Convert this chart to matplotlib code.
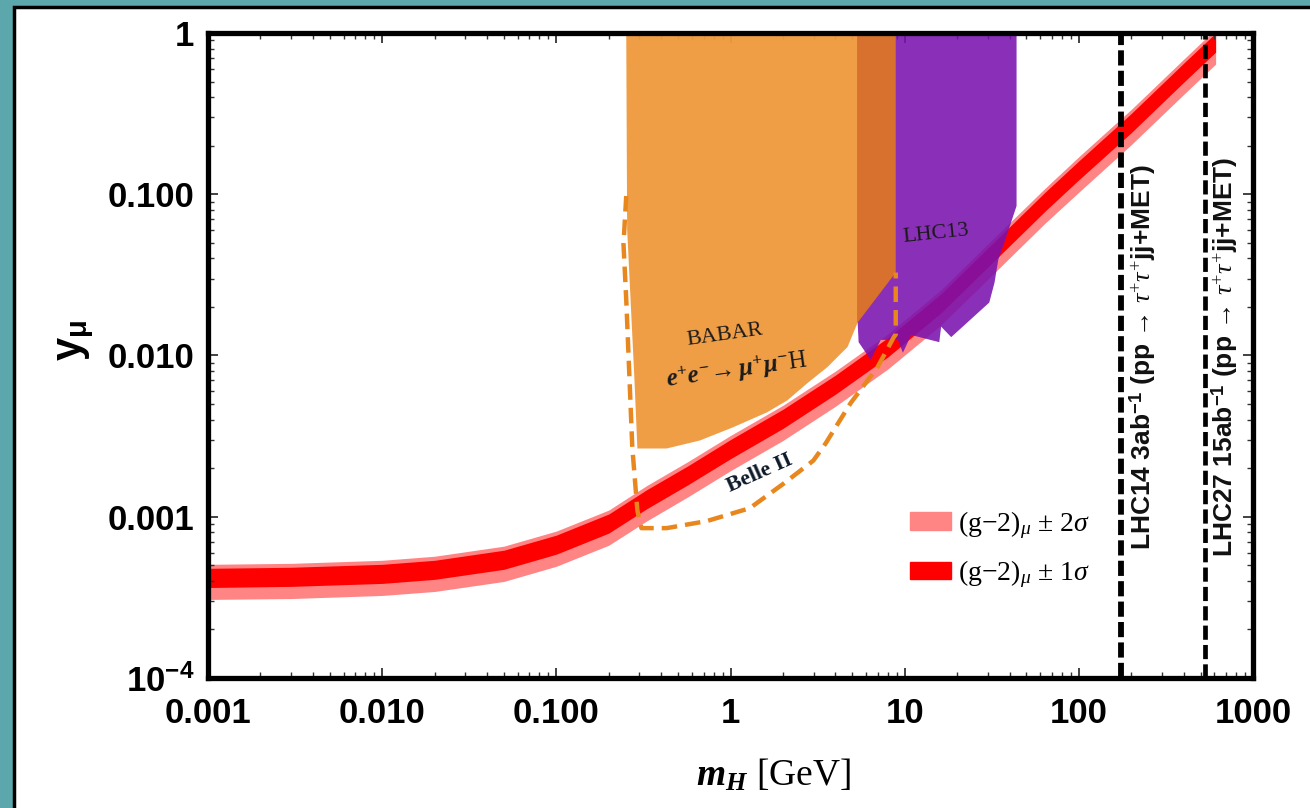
import matplotlib.pyplot as plt
from matplotlib.patches import Rectangle, Patch
from matplotlib.ticker import FixedLocator, LogLocator, NullFormatter

plt.rcParams['mathtext.fontset'] = 'custom'
plt.rcParams['mathtext.rm'] = 'Liberation Serif'
plt.rcParams['mathtext.it'] = 'Liberation Serif:italic'
plt.rcParams['mathtext.bf'] = 'Liberation Sans:bold'
plt.rcParams['mathtext.bfit'] = 'Liberation Serif:italic:bold'

# (g-2)_mu band
band_x = [0.001, 0.003, 0.01, 0.02, 0.05, 0.1, 0.2, 0.33, 0.57, 1, 2, 4, 8, 16, 32, 64, 100, 200, 400, 610]
pink_hi = [5.07e-4, 5.14e-4, 5.37e-4, 5.69e-4, 6.57e-4, 8.15e-4, 1.10e-3, 1.56e-3, 2.20e-3, 3.19e-3,
           4.91e-3, 8.00e-3, 0.0136, 0.0253, 0.0526, 0.109, 0.171, 0.336, 0.688, 1.06]
red_hi = [4.79e-4, 4.86e-4, 5.07e-4, 5.37e-4, 6.20e-4, 7.69e-4, 1.04e-3, 1.47e-3, 2.07e-3, 3.01e-3,
          4.64e-3, 7.55e-3, 0.0129, 0.0239, 0.0496, 0.103, 0.161, 0.317, 0.650, 1.0]
red_lo = [3.64e-4, 3.70e-4, 3.86e-4, 4.09e-4, 4.72e-4, 5.86e-4, 7.92e-4, 1.12e-3, 1.58e-3, 2.29e-3,
          3.53e-3, 5.75e-3, 9.79e-3, 0.0182, 0.0378, 0.0786, 0.123, 0.241, 0.495, 0.761]
pink_lo = [3.07e-4, 3.11e-4, 3.25e-4, 3.44e-4, 3.97e-4, 4.93e-4, 6.66e-4, 9.41e-4, 1.33e-3, 1.93e-3,
           2.97e-3, 4.84e-3, 8.24e-3, 0.0153, 0.0318, 0.0662, 0.103, 0.203, 0.416, 0.641]

# BABAR exclusion region
babar_x = [0.252, 0.255, 0.281, 0.292, 0.43, 0.666, 1.03, 1.62, 2.12, 2.76, 3.60, 4.70, 5.37, 8.89, 8.89]
babar_y = [1, 0.0607, 7.0e-3, 2.65e-3, 2.65e-3, 2.97e-3, 3.58e-3, 4.44e-3, 5.27e-3, 6.73e-3, 8.47e-3, 0.0113, 0.016, 0.0327, 1]

# part of BABAR drawn darker (overlap with LHC13)
overlap_x = [5.37, 5.37, 8.89, 8.89]
overlap_y = [1, 0.016, 0.0327, 1]

# LHC13 region
lhc13_x = [5.37, 43.9, 43.9, 37.4, 34.5, 32.8, 30.6, 18.5, 16.2, 15.8, 10.9, 9.77, 9.14, 7.29, 6.38, 5.44, 5.37]
lhc13_y = [1, 1, 0.0846, 0.0504, 0.0394, 0.0283, 0.0213, 0.0130, 0.0151, 0.0121, 0.0134, 0.0104, 0.0125, 0.0125, 9.4e-3, 0.0121, 0.016]

# Belle II projection (dashed)
belle_x = [0.252, 0.243, 0.252, 0.273, 0.292, 0.308, 0.43, 0.731, 1.29, 2.01, 2.99, 3.51, 4.89, 7.0, 8.66, 8.89, 8.89]
belle_y = [0.0975, 0.049, 0.0222, 2.7e-3, 1.09e-3, 8.5e-4, 8.5e-4, 9.4e-4, 1.13e-3, 1.60e-3, 2.23e-3, 2.84e-3, 5.06e-3, 8.5e-3, 0.013, 0.0135, 0.0327]

# future LHC reach (vertical lines)
lhc14_m = 175
lhc27_m = 530

xticks = [0.001, 0.01, 0.1, 1, 10, 100, 1000]
xlabels = ['0.001', '0.010', '0.100', '1', '10', '100', '1000']
yticks = [1e-4, 1e-3, 1e-2, 1e-1, 1]
ylabels = [r'$\mathbf{10^{-4}}$', '0.001', '0.010', '0.100', '1']

fig = plt.figure(figsize=(13.1, 8.08), dpi=100)
fig.patch.set_facecolor('#5ba7ab')
fig.patches.append(Rectangle((14 / 1310, -0.1), 1.2, 1.1 - 7 / 808, transform=fig.transFigure,
                             facecolor='white', edgecolor='black', lw=2.5, zorder=-5))

ax = fig.add_axes([208 / 1310, 130 / 808, 1045 / 1310, 645 / 808])
ax.set_zorder(2)
ax.set_facecolor('white')
ax.set_xscale('log')
ax.set_yscale('log')
ax.set_xlim(0.001, 1000)
ax.set_ylim(1e-4, 1)

ax.fill_between(band_x, pink_lo, pink_hi, color='#ff8585', lw=0, zorder=1)
ax.fill_between(band_x, red_lo, red_hi, color='#ff0000', lw=0, zorder=1.5)

ax.fill(babar_x, babar_y, color='#f09a3e', alpha=0.96, lw=0, zorder=2)
ax.fill(lhc13_x, lhc13_y, color='#7a12ae', alpha=0.88, lw=0, zorder=3)
ax.fill(overlap_x, overlap_y, color='#d9712e', lw=0, zorder=4)

ax.plot(belle_x, belle_y, color='#e8871e', lw=3.2, dashes=(3.5, 1.8), zorder=5)

ax.axvline(lhc14_m, color='black', lw=4.2, dashes=(2.6, 0.9), zorder=6)
ax.axvline(lhc27_m, color='black', lw=3.4, dashes=(3, 1.1), zorder=6)

txt_kw = dict(family='Liberation Sans', fontweight='bold', fontsize=19, rotation=90,
              ha='center', va='center', color='#111111')
ax.text(231, 9.8e-3, r'LHC14 3ab$^{\mathbf{-1}}$ (pp → $\tau^{+}\tau^{+}$jj+MET)', **txt_kw)
ax.text(690, 9.8e-3, r'LHC27 15ab$^{\mathbf{-1}}$ (pp → $\tau^{+}\tau^{+}$jj+MET)', **txt_kw)

ax.text(0.93, 0.0134, 'BABAR', family='Liberation Serif', fontsize=16, rotation=8,
        ha='center', va='center', rotation_mode='anchor', color='#1a1a1a', zorder=7)
ax.text(1.09, 8.1e-3, r'$\mathbfit{e^{+}e^{-}\!\rightarrow \mu^{+}\mu^{-}}$H', family='Liberation Serif',
        fontsize=18, rotation=8, ha='center', va='center', rotation_mode='anchor', color='#1a1a1a', zorder=7)
ax.text(15.1, 0.0565, 'LHC13', family='Liberation Serif', fontsize=16, rotation=6,
        ha='center', va='center', rotation_mode='anchor', color='#1a1a1a', zorder=7)
ax.text(1.48, 1.85e-3, 'Belle II', family='Liberation Serif', fontsize=16, fontweight='bold', rotation=24,
        ha='center', va='center', rotation_mode='anchor', color='#0d1a2a', zorder=7)

ax.xaxis.set_major_locator(FixedLocator(xticks))
ax.set_xticklabels(xlabels)
ax.yaxis.set_major_locator(FixedLocator(yticks))
ax.set_yticklabels(ylabels)
ax.xaxis.set_minor_locator(LogLocator(base=10, subs=range(2, 10), numticks=20))
ax.yaxis.set_minor_locator(LogLocator(base=10, subs=range(2, 10), numticks=20))
ax.xaxis.set_minor_formatter(NullFormatter())
ax.yaxis.set_minor_formatter(NullFormatter())
ax.tick_params(which='both', direction='in', top=True, right=True, color='#333333')
ax.tick_params(which='major', length=7, width=1.3)
ax.tick_params(which='minor', length=4, width=1.0)
ax.tick_params(axis='x', pad=14)
ax.tick_params(axis='y', pad=10)
for lab in ax.get_xticklabels() + ax.get_yticklabels():
    lab.set_fontfamily('Liberation Sans')
    lab.set_fontweight('bold')
    lab.set_fontsize(25)
for sp in ax.spines.values():
    sp.set_linewidth(3.8)
    sp.set_zorder(10)

fig.text(774 / 1310, 1 - 775 / 808, r'$\mathbfit{m_H}$ [GeV]', family='Liberation Serif',
         fontsize=27, ha='center', va='center')
fig.text(75 / 1310, 1 - 340 / 808, r'$\mathbf{y_{\mu}}$', fontsize=30, rotation=90,
         ha='center', va='center')

handles = [Patch(color='#ff8585'), Patch(color='#ff0000')]
labels = [r'(g$-$2)$_{\mu}$ $\pm$ 2$\sigma$', r'(g$-$2)$_{\mu}$ $\pm$ 1$\sigma$']
ax.legend(handles, labels, loc='upper left', bbox_to_anchor=(0.672, 0.262), frameon=False,
          prop={'family': 'Liberation Serif', 'size': 20}, handlelength=1.45, handleheight=0.57,
          handletextpad=0.28, labelspacing=0.64, borderpad=0, borderaxespad=0)

fig.savefig('out.png', dpi=100, facecolor=fig.get_facecolor())
